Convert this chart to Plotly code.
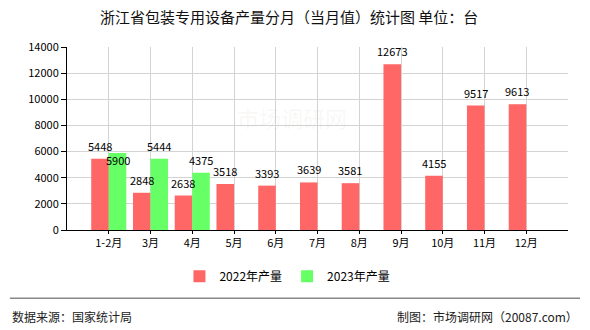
import plotly.graph_objects as go

categories = ["1-2月", "3月", "4月", "5月", "6月", "7月", "8月", "9月", "10月", "11月", "12月"]
values_2022 = [5448, 2848, 2638, 3518, 3393, 3639, 3581, 12673, 4155, 9517, 9613]
values_2023 = [5900, 5444, 4375]
y_ticks = [0, 2000, 4000, 6000, 8000, 10000, 12000, 14000]

FONT = "Noto Sans CJK SC"
RED = "#FF6666"
GREEN = "#66FF66"

xs = list(range(1, len(categories) + 1))

fig = go.Figure()
fig.add_trace(go.Bar(x=xs, y=values_2022, name="2022年产量", marker=dict(color=RED, line=dict(width=0))))
fig.add_trace(go.Bar(x=xs[:len(values_2023)], y=values_2023, name="2023年产量", marker=dict(color=GREEN, line=dict(width=0))))

annotations = []
off = 0.21
for i, v in enumerate(values_2022):
    annotations.append(dict(x=xs[i] - off, y=v, text=str(v), showarrow=False, xref="x", yref="y",
                            yshift=13, font=dict(family=FONT, size=11, color="#000")))
for i, v in enumerate(values_2023):
    shift = -7 if i == 0 else 13
    annotations.append(dict(x=xs[i] + off, y=v, text=str(v), showarrow=False, xref="x", yref="y",
                            yshift=shift, font=dict(family=FONT, size=11, color="#000")))

# watermark
annotations.append(dict(x=0.45, y=0.62, xref="paper", yref="paper", text="市场调研网", showarrow=False,
                        font=dict(family=FONT, size=22, color="rgba(200,180,160,0.10)")))
# footer
annotations.append(dict(x=-0.114, y=-0.472, xref="paper", yref="paper", text="数据来源：国家统计局", showarrow=False,
                        xanchor="left", yanchor="middle", font=dict(family=FONT, size=12, color="#222")))
annotations.append(dict(x=1.024, y=-0.472, xref="paper", yref="paper", text="制图：市场调研网（20087.com）", showarrow=False,
                        xanchor="right", yanchor="middle", font=dict(family=FONT, size=12, color="#222")))

fig.update_layout(
    width=590, height=330,
    margin=dict(l=67, r=22, t=47, b=100),
    paper_bgcolor="white", plot_bgcolor="white",
    title=dict(text="浙江省包装专用设备产量分月（当月值）统计图 单位：台", x=0.49, xanchor="center",
               y=1 - 18 / 330, yanchor="middle", yref="container",
               font=dict(family=FONT, size=15, color="#111")),
    barmode="group", bargap=0.16, bargroupgap=0,
    showlegend=True,
    legend=dict(orientation="h", x=0.44, xanchor="center", y=-0.253, yanchor="middle",
                font=dict(family=FONT, size=12, color="#000"), itemwidth=30),
    annotations=annotations,
    shapes=[dict(type="line", xref="paper", yref="paper", x0=-0.114, x1=1.024, y0=-0.373, y1=-0.373,
                 line=dict(color="#888", width=1.5))],
    font=dict(family=FONT),
)
fig.update_xaxes(range=[0, len(categories) + 1], tickmode="array", tickvals=xs, ticktext=categories,
                 showgrid=True, gridcolor="#d3d3d3", gridwidth=1,
                 showline=True, linecolor="#000", linewidth=1,
                 ticks="outside", ticklen=3, tickcolor="#000",
                 tickfont=dict(family=FONT, size=11, color="#000"), zeroline=False)
fig.update_yaxes(range=[0, 14000], tickmode="array", tickvals=y_ticks, ticktext=[str(t) for t in y_ticks],
                 showgrid=True, gridcolor="#d3d3d3", gridwidth=1,
                 showline=True, linecolor="#000", linewidth=1,
                 ticks="outside", ticklen=5, tickcolor="#000",
                 tickfont=dict(family=FONT, size=11, color="#000"), zeroline=False)

fig.write_html("out.html")
